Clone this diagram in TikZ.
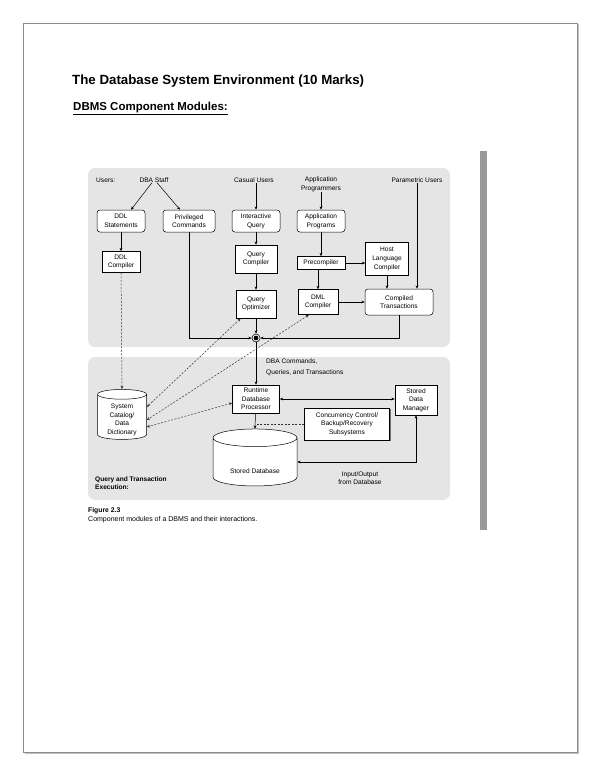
\documentclass[tikz,border=0pt]{standalone}
\usepackage{fontspec}
\setmainfont{Liberation Sans}
\usetikzlibrary{arrows.meta,shapes.geometric,shadows}

\newcommand\dfont{\fontsize{6.6}{8.6}\selectfont}

\tikzset{
  box/.style={draw, fill=white, align=center, font=\dfont, inner sep=0.5pt, line width=0.5pt},
  rbox/.style={box, rounded corners=3pt},
  lbl/.style={font=\dfont, align=center, inner sep=0pt},
  link/.style={line width=0.5pt},
  dlink/.style={link, black!80, dash pattern=on 2pt off 1.5pt},
  panel/.style={fill=black!10, rounded corners=7pt},
  dbase/.style={cylinder, shape border rotate=90, draw, fill=white, line width=0.5pt,
    font=\dfont, align=center, inner sep=0pt}
}

\begin{document}
\begin{tikzpicture}[x=1pt, y=-1pt, >={Stealth[length=3.4pt,width=2.8pt]}]
\useasboundingbox (0,0) rectangle (600,776);
% page frame
\draw[black!25, line width=1pt] (578.5,24.5) -- (578.5,753.5) -- (24.5,753.5);
\draw[black!45, line width=0.8pt] (23,23) rectangle (577,752);

% headings
\node[anchor=base west, inner sep=0, font=\bfseries\fontsize{13.3}{15}\selectfont] (title) at (72,84.5)
  {The Database System Environment (10 Marks)};
\node[anchor=base west, inner sep=0, font=\bfseries\fontsize{11.5}{13}\selectfont] (subtitle) at (73,110.5)
  {\underline{DBMS Component Modules:}};

% panels and side bar
\fill[panel] (88,168) rectangle (450,347);
\fill[panel] (88,357) rectangle (450,500);
\fill[black!40] (480,151) rectangle (487,530);

% users
\node[lbl, anchor=west] (users) at (96,180) {Users:};
\node[lbl] (dba) at (154,180) {DBA Staff};
\node[lbl] (casual) at (254,180) {Casual Users};
\node[lbl] (appusers) at (321,184) {Application\\Programmers};
\node[lbl] (param) at (417,180) {Parametric Users};

% upper modules
\node[rbox, minimum width=48pt, minimum height=22pt] (ddlst) at (121,221) {DDL\\Statements};
\node[rbox, minimum width=52pt, minimum height=22pt] (priv) at (189,221) {Privileged\\Commands};
\node[rbox, minimum width=48pt, minimum height=22pt] (inter) at (256,221) {Interactive\\Query};
\node[rbox, minimum width=48pt, minimum height=22pt] (apps) at (321,221) {Application\\Programs};
\node[box, minimum width=38pt, minimum height=21pt] (ddlc) at (121,262) {DDL\\Compiler};
\node[box, minimum width=42pt, minimum height=28pt] (qc) at (256,259) {Query\\Compiler};
\node[box, minimum width=40pt, minimum height=28pt] (qo) at (256,304) {Query\\Optimizer};
\node[box, minimum width=48pt, minimum height=13pt] (pre) at (321,263) {Precompiler};
\node[box, minimum width=43pt, minimum height=33pt] (host) at (387,259) {Host\\Language\\Compiler};
\node[box, minimum width=40pt, minimum height=25pt] (dml) at (318,302) {DML\\Compiler};
\node[rbox, minimum width=68pt, minimum height=26pt] (comp) at (399,302) {Compiled\\Transactions};
\node[circle, draw, fill=white, line width=0.6pt, minimum size=8pt, inner sep=0pt] (jn) at (256,338) {};
\fill (jn) circle (2.4pt);

% lower modules
\node[dbase, aspect=0.2, minimum width=49pt, minimum height=50pt,
  label={[lbl, yshift=-3pt]center:System\\Catalog/\\Data\\Dictionary}] (cat) at (122,417) {\rule{49pt}{0pt}};
\node[box, minimum width=47pt, minimum height=28pt] (rdp) at (256,399) {Runtime\\Database\\Processor};
\node[box, minimum width=42pt, minimum height=30pt] (sdm) at (416,400) {Stored\\Data\\Manager};
\node[box, minimum width=85pt, minimum height=32pt,
  drop shadow={opacity=1, fill=black!55, shadow xshift=1.3pt, shadow yshift=-1.3pt}] (cc) at (347,424)
  {Concurrency Control/\\Backup/Recovery\\Subsystems};
\node[dbase, aspect=0.21, minimum width=84pt, minimum height=57pt,
  label={[lbl, yshift=-9pt]center:Stored Database}] (sdb) at (255,462) {\rule{84pt}{0pt}};

% labels
\node[lbl, anchor=north west, align=left] (dbacmd) at (266,359) {DBA Commands,\\[1.8pt]Queries, and Transactions};
\node[lbl] (io) at (360,478) {Input/Output\\from Database};
\node[lbl, anchor=west, align=left, font=\dfont\bfseries] (qte) at (95,483) {Query and Transaction\\Execution:};
\node[anchor=base west, inner sep=0, font=\bfseries\fontsize{6.8}{8}\selectfont] (fig) at (88,512.5) {Figure 2.3};
\node[anchor=base west, inner sep=0, font=\fontsize{7}{8}\selectfont] (caption) at (88,521)
  {Component modules of a DBMS and their interactions.};

% solid connectors
\draw[link, ->] ([xshift=-2pt]dba.south) -- ([xshift=10pt]ddlst.north);
\draw[link, ->] ([xshift=3pt]dba.south) -- ([xshift=-9pt]priv.north);
\draw[link, ->] (inter.north |- casual.south) -- (inter.north);
\draw[link, ->] (appusers) -- (apps);
\draw[link, ->] (param.south) -- (param.south |- comp.north);
\draw[link, ->] (ddlst) -- (ddlc);
\draw[link, ->] (inter) -- (qc);
\draw[link, ->] (qc) -- (qo);
\draw[link, ->] (apps) -- (pre);
\draw[link, ->] (pre.east) -- (pre.east -| host.west);
\draw[link, ->] (pre.south -| dml) -- (dml.north);
\draw[link, ->] (host.south) -- (host.south |- comp.north);
\draw[link, ->] (dml) -- (comp);
\draw[link, ->] (qo) -- (jn);
\draw[link, ->] (priv.south) |- (jn);
\draw[link, ->] (comp.south) |- (jn);
\draw[link, ->] (jn) -- (rdp);
\draw[link, <->] (rdp.east) -- (rdp.east -| sdm.west);
\draw[link, ->] (rdp) -- (sdb.north);
\draw[link, <->] (sdm.south) |- (sdb.east);

% dashed connectors
\draw[dlink, ->] (ddlc) -- (cat.north);
\draw[dlink, <->] ([xshift=5pt]qo.south west) -- ([yshift=10pt]cat.east);
\draw[dlink, <->] ([xshift=-9pt]dml.south) -- ([yshift=-3pt]cat.east);
\draw[dlink, <->] ([yshift=-4pt]rdp.west) -- ([yshift=-10pt]cat.east);
\draw[dlink] (cc.west) -- (cc.west -| rdp.south);
\end{tikzpicture}
\end{document}
